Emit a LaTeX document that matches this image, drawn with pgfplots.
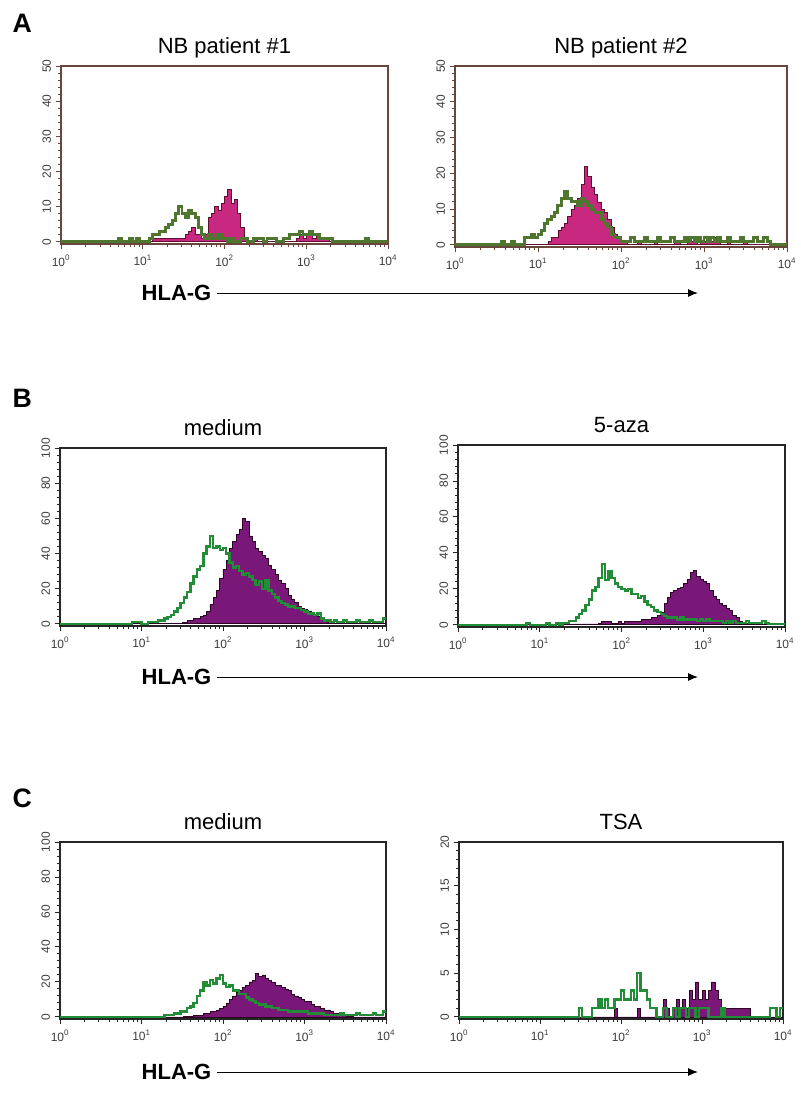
\documentclass[border=0pt]{standalone}
\usepackage{fontspec}
\setmainfont{Liberation Sans}
\usepackage{pgfplots}
\pgfplotsset{compat=1.18}
\usetikzlibrary{arrows.meta}

\definecolor{magA}{RGB}{200,40,128}
\definecolor{magAline}{RGB}{95,15,45}
\definecolor{grnA}{RGB}{78,118,46}
\definecolor{frameA}{RGB}{105,70,60}
\definecolor{purB}{RGB}{122,24,122}
\definecolor{purBline}{RGB}{45,5,35}
\definecolor{grnB}{RGB}{35,140,55}
\definecolor{tickcol}{RGB}{60,60,60}

\pgfplotsset{
 facs/.style={
  scale only axis,
  xmin=0, xmax=4,
  xtick={0,1,2,3,4},
  xticklabels={10\textsuperscript{0},10\textsuperscript{1},10\textsuperscript{2},10\textsuperscript{3},10\textsuperscript{4}},
  minor xtick={0.301,0.477,0.602,0.699,0.778,0.845,0.903,0.954,1.301,1.477,1.602,1.699,1.778,1.845,1.903,1.954,2.301,2.477,2.602,2.699,2.778,2.845,2.903,2.954,3.301,3.477,3.602,3.699,3.778,3.845,3.903,3.954},
  tick pos=left, tick align=outside,
  major tick length=4pt, minor tick length=2.2pt,
  minor y tick num=4,
  /pgf/number format/assume math mode=true,
  ticklabel style={font=\fontsize{9}{10}\selectfont, text=tickcol},
  xticklabel style={yshift=-1pt},
  yticklabel style={rotate=90, anchor=south},
  every axis title/.style={at={(0.5,1)}, anchor=base, yshift=9.5pt, font=\fontsize{16.5}{18}\selectfont},
  axis line style={line width=0.9pt},
  tick style={line width=0.7pt},
  anchor=south west,
 },
 frA/.style={axis line style={frameA}, tick style={frameA}},
 frB/.style={axis line style={black!85}, tick style={black!85}},
}

\begin{document}
\begin{tikzpicture}
\useasboundingbox (0pt,0pt) rectangle (600pt,-822pt);

% ---------------- A1 ----------------
\begin{axis}[facs, frA, at={(45.75pt,-183pt)}, width=245.25pt, height=133.5pt,
  ymin=-0.6, ymax=50, ytick={0,10,...,50}, title={NB patient \#1}]
\addplot[const plot, fill=magA, draw=magAline, line width=0.6pt] table {
0 0
1.12 1
1.20 1
1.28 1
1.40 1
1.52 2
1.56 3
1.60 4
1.64 2
1.68 2
1.72 1
1.76 2
1.80 7
1.84 8
1.88 10
1.92 9
1.96 11
2.00 13
2.04 15
2.08 11
2.12 12
2.16 8
2.20 4
2.24 1
2.28 0
2.36 1
2.40 0
2.88 1
2.92 2
2.96 1
3.00 2
3.04 3
3.08 1
3.12 2
3.16 1
3.24 1
3.28 0
4.00 0
} \closedcycle;
\addplot[const plot, draw=grnA, line width=2.2pt] table {
0 0
0.70 1
0.74 0
0.84 1
0.88 0
0.92 1
0.96 0
1.08 1
1.12 2
1.16 2
1.20 3
1.24 3
1.28 4
1.32 5
1.36 6
1.40 8
1.44 10
1.48 8
1.52 7
1.56 9
1.60 8
1.64 7
1.68 4
1.72 2
1.76 1
1.80 2
1.84 1
1.88 1
1.92 2
1.96 1
2.00 1
2.04 0
2.08 1
2.12 0
2.20 1
2.24 1
2.28 0
2.36 1
2.40 1
2.48 0
2.52 1
2.60 1
2.64 0
2.72 1
2.80 2
2.84 2
2.92 3
2.96 2
3.00 2
3.04 3
3.08 2
3.12 2
3.16 1
3.24 1
3.32 0
3.72 1
3.76 0
4.00 0
};
\end{axis}

% ---------------- A2 ----------------
\begin{axis}[facs, frA, at={(341.25pt,-185.25pt)}, width=249pt, height=135.75pt,
  ymin=-0.6, ymax=50, ytick={0,10,...,50}, title={NB patient \#2}]
\addplot[const plot, fill=magA, draw=magAline, line width=0.6pt] table {
0 0
1.12 1
1.16 2
1.20 2
1.24 4
1.28 5
1.32 6
1.36 8
1.40 10
1.44 11
1.48 13
1.52 17
1.56 22
1.60 19
1.64 16
1.68 14
1.72 12
1.76 10
1.80 9
1.84 7
1.88 5
1.92 3
1.96 2
2.00 1
2.04 1
2.08 0
2.20 1
2.24 0
2.40 1
2.44 0
2.64 1
2.72 0
2.80 1
2.84 1
2.92 0
2.96 1
3.00 1
3.08 1
3.12 2
3.16 1
3.20 0
3.28 1
3.32 0
3.48 1
3.52 0
4.00 0
} \closedcycle;
\addplot[const plot, draw=grnA, line width=2.2pt] table {
0 0
0.56 1
0.60 0
0.68 1
0.72 0
0.84 2
0.88 2
0.92 3
0.96 2
1.00 3
1.04 4
1.08 6
1.12 7
1.16 8
1.20 9
1.24 11
1.28 13
1.32 15
1.36 13
1.40 12
1.44 12
1.48 11
1.52 13
1.56 12
1.60 11
1.64 10
1.68 9
1.72 9
1.76 7
1.80 6
1.84 5
1.88 3
1.92 2
1.96 2
2.00 1
2.04 1
2.08 1
2.12 2
2.16 1
2.20 1
2.24 1
2.28 2
2.32 1
2.36 1
2.40 1
2.44 2
2.48 1
2.52 1
2.56 1
2.60 2
2.64 1
2.68 1
2.72 1
2.76 2
2.80 1
2.84 2
2.88 1
2.92 2
2.96 1
3.00 2
3.04 1
3.08 2
3.12 1
3.16 2
3.20 1
3.24 1
3.28 2
3.32 1
3.36 1
3.40 1
3.44 2
3.48 1
3.52 1
3.56 1
3.60 2
3.64 1
3.68 1
3.72 2
3.76 1
3.80 0
4.00 0
};
\end{axis}

% ---------------- B1 ----------------
\begin{axis}[facs, frB, at={(45pt,-469.5pt)}, width=244.5pt, height=133.5pt,
  ymin=-1.2, ymax=100, ytick={0,20,...,100}, title={medium}]
\addplot[const plot, fill=purB, draw=purBline, line width=0.6pt] table {
0 0
1.16 0.5
1.50 1
1.56 2
1.60 2
1.64 3
1.68 3
1.72 4
1.76 5
1.80 7
1.84 11
1.88 15
1.92 19
1.96 26
2.00 31
2.04 36
2.08 43
2.12 47
2.16 51
2.20 54
2.24 60
2.28 58
2.32 50
2.36 47
2.40 43
2.44 41
2.48 39
2.52 37
2.56 33
2.60 31
2.64 28
2.68 25
2.72 23
2.76 20
2.80 16
2.84 14
2.88 12
2.92 10
2.96 9
3.00 8
3.04 7
3.08 6
3.12 5
3.16 4
3.20 3
3.24 2
3.28 1
3.32 0.5
3.36 0
4.00 0
} \closedcycle;
\addplot[const plot, draw=grnB, line width=1.8pt] table {
0 0
0.88 1
0.96 1
1.00 0
1.08 1
1.12 1
1.16 1
1.20 2
1.24 2
1.28 3
1.32 4
1.36 5
1.40 7
1.44 9
1.48 12
1.52 15
1.56 18
1.60 23
1.64 27
1.68 31
1.72 33
1.76 40
1.80 44
1.84 50
1.88 43
1.92 44
1.96 42
2.00 43
2.04 40
2.08 35
2.12 32
2.16 33
2.20 30
2.24 28
2.28 29
2.32 27
2.36 25
2.40 22
2.44 24
2.48 20
2.52 25
2.56 19
2.60 17
2.64 15
2.68 13
2.72 12
2.76 11
2.80 10
2.84 10
2.88 9
2.92 9
2.96 8
3.00 7
3.04 6
3.08 6
3.12 5
3.16 6
3.20 3
3.24 2
3.28 2
3.32 1
3.36 2
3.40 1
3.44 1
3.48 2
3.52 1
3.56 1
3.60 1
3.64 2
3.68 1
3.72 1
3.76 1
3.80 2
3.84 1
3.88 1
3.92 1
3.96 3
4.00 3
};
\end{axis}

% ---------------- B2 ----------------
\begin{axis}[facs, frB, at={(343.5pt,-470.25pt)}, width=245.25pt, height=136.5pt,
  ymin=-1.2, ymax=100, ytick={0,20,...,100}, title={5-aza}]
\addplot[const plot, fill=purB, draw=purBline, line width=0.6pt] table {
0 0
1.40 0.5
1.72 1
1.76 2
1.80 2
1.84 2
1.88 1
1.92 1
1.96 2
2.00 1
2.04 2
2.08 2
2.12 2
2.16 2
2.20 2
2.24 3
2.28 3
2.32 3
2.36 4
2.40 4
2.44 5
2.48 7
2.52 12
2.56 15
2.60 18
2.64 19
2.68 20
2.72 21
2.76 23
2.80 25
2.84 29
2.88 30
2.92 27
2.96 25
3.00 24
3.04 23
3.08 19
3.12 16
3.16 14
3.20 12
3.24 11
3.28 9
3.32 8
3.36 5
3.40 4
3.44 2
3.48 1
3.52 1
3.56 1
3.60 1
3.64 0.5
3.72 0
4.00 0
} \closedcycle;
\addplot[const plot, draw=grnB, line width=1.8pt] table {
0 0
0.84 1
0.88 0
1.08 1
1.12 0
1.20 1
1.24 0
1.28 1
1.32 1
1.36 2
1.40 2
1.44 4
1.48 6
1.52 8
1.56 11
1.60 14
1.64 19
1.68 21
1.72 26
1.76 34
1.80 25
1.84 30
1.88 26
1.92 23
1.96 21
2.00 20
2.04 19
2.08 20
2.12 17
2.16 17
2.20 15
2.24 16
2.28 13
2.32 11
2.36 10
2.40 8
2.44 7
2.48 6
2.52 5
2.56 4
2.60 4
2.64 4
2.68 3
2.72 4
2.76 3
2.80 3
2.84 3
2.88 3
2.92 2
2.96 3
3.00 2
3.04 3
3.08 2
3.12 2
3.16 2
3.20 2
3.24 1
3.28 2
3.32 1
3.36 2
3.40 1
3.44 1
3.48 1
3.52 2
3.56 1
3.60 1
3.64 1
3.68 1
3.72 2
3.76 1
3.80 0.5
4.00 0.5
};
\end{axis}

% ---------------- C1 ----------------
\begin{axis}[facs, frB, at={(45pt,-764.25pt)}, width=244.5pt, height=132.75pt,
  ymin=-1.2, ymax=100, ytick={0,20,...,100}, title={medium}]
\addplot[const plot, fill=purB, draw=purBline, line width=0.6pt] table {
0 0
1.52 0.5
1.64 1
1.72 1
1.76 2
1.80 2
1.84 3
1.88 3
1.92 4
1.96 5
2.00 6
2.04 8
2.08 10
2.12 12
2.16 14
2.20 15
2.24 17
2.28 18
2.32 20
2.36 21
2.40 25
2.44 23
2.48 24
2.52 22
2.56 21
2.60 20
2.64 18
2.68 18
2.72 17
2.76 16
2.80 15
2.84 13
2.88 12
2.92 11
2.96 10
3.00 9
3.04 9
3.08 7
3.12 6
3.16 6
3.20 5
3.24 4
3.28 4
3.32 3
3.36 2
3.40 2
3.44 1
3.48 1
3.52 0.5
3.60 0
4.00 0
} \closedcycle;
\addplot[const plot, draw=grnB, line width=1.8pt] table {
0 0
1.28 1
1.40 2
1.44 2
1.48 3
1.52 3
1.56 5
1.60 6
1.64 8
1.68 12
1.72 15
1.76 20
1.80 18
1.84 21
1.88 19
1.92 22
1.96 24
2.00 19
2.04 17
2.08 18
2.12 15
2.16 15
2.20 13
2.24 13
2.28 11
2.32 10
2.36 9
2.40 8
2.44 7
2.48 7
2.52 6
2.56 6
2.60 5
2.64 5
2.68 4
2.72 4
2.76 4
2.80 3
2.84 3
2.88 3
2.92 3
2.96 3
3.00 3
3.04 2
3.08 2
3.12 2
3.16 2
3.20 2
3.24 1
3.40 1
3.44 2
3.48 1
3.60 1
3.64 2
3.68 1
3.80 1
3.84 2
3.88 1
3.96 3
4.00 3
};
\end{axis}

% ---------------- C2 ----------------
\begin{axis}[facs, frB, at={(344.25pt,-764.25pt)}, width=243pt, height=132.75pt,
  ymin=-0.24, ymax=20, ytick={0,5,...,20}, title={TSA}]
\addplot[const plot, fill=purB, draw=purBline, line width=0.6pt] table {
0 0
1.92 1
1.96 0
2.20 1
2.24 0
2.52 2
2.56 1
2.60 0
2.64 1
2.68 2
2.72 1
2.76 2
2.80 1
2.84 3
2.88 2
2.92 4
2.96 2
3.00 3
3.04 2
3.08 3
3.12 4
3.16 3
3.20 2
3.24 1
3.28 1
3.32 1
3.36 1
3.40 1
3.44 1
3.48 1
3.52 1
3.56 1
3.60 0
4.00 0
} \closedcycle;
\addplot[const plot, draw=grnB, line width=1.8pt] table {
0 0
1.48 1
1.52 0
1.64 1
1.68 1
1.72 2
1.76 1
1.80 2
1.84 1
1.88 1
1.92 2
1.96 2
2.00 3
2.04 2
2.08 2
2.12 3
2.16 2
2.20 5
2.24 3
2.28 3
2.32 2
2.36 1
2.40 1
2.44 0
2.52 1
2.56 0
2.64 1
2.68 0
2.72 1
2.76 1
2.80 0
2.84 1
2.88 1
2.92 0
2.96 1
3.00 1
3.04 1
3.08 0
3.24 1
3.28 0
3.84 1
3.92 0
3.96 1
4.00 1
};
\end{axis}

% ---------------- panel letters, axis captions ----------------
\begin{scope}[x=0.75pt, y=-0.75pt]
\node[anchor=base west, font=\bfseries\fontsize{20}{22}\selectfont] at (8,32) {A};
\node[anchor=base west, font=\bfseries\fontsize{20}{22}\selectfont] at (8,407) {B};
\node[anchor=base west, font=\bfseries\fontsize{20}{22}\selectfont] at (8,807) {C};

\node[anchor=base west, font=\bfseries\fontsize{16.5}{18}\selectfont] at (137,300) {HLA-G};
\draw[line width=0.75pt, -{Latex[length=7.5pt,width=6pt]}] (217,293) -- (698,293);
\node[anchor=base west, font=\bfseries\fontsize{16.5}{18}\selectfont] at (137,684) {HLA-G};
\draw[line width=0.75pt, -{Latex[length=7.5pt,width=6pt]}] (217,677) -- (698,677);
\node[anchor=base west, font=\bfseries\fontsize{16.5}{18}\selectfont] at (137,1079) {HLA-G};
\draw[line width=0.75pt, -{Latex[length=7.5pt,width=6pt]}] (217,1072) -- (698,1072);
\end{scope}
\end{tikzpicture}
\end{document}
